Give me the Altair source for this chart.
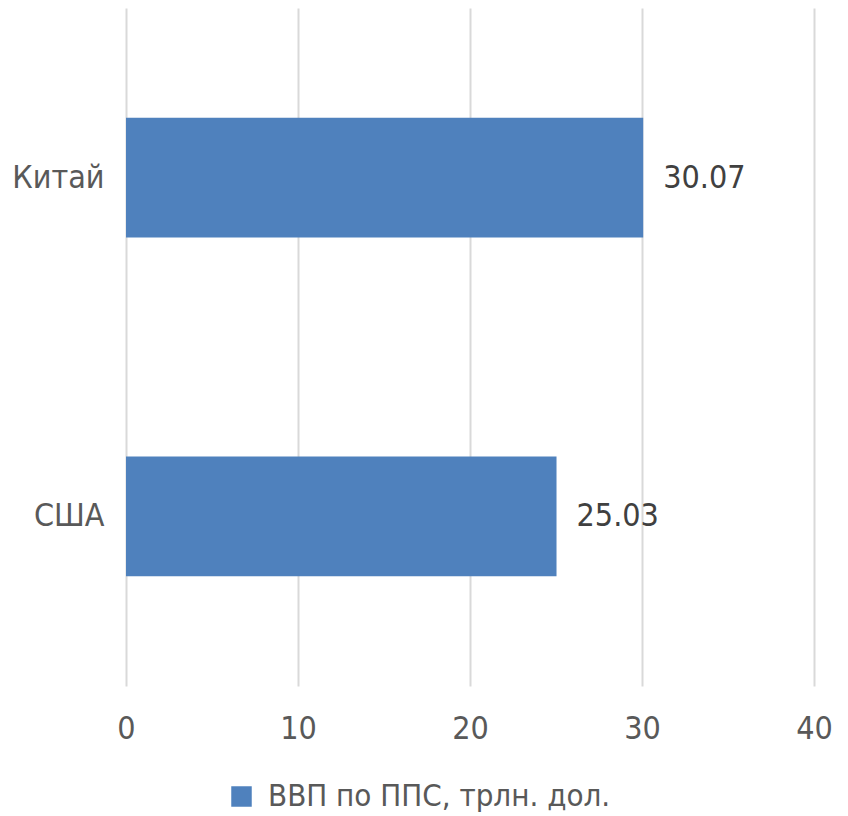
import altair as alt
import pandas as pd

countries = ["Китай", "США"]
values = [30.07, 25.03]
series_name = "ВВП по ППС, трлн. дол."

df = pd.DataFrame({"country": countries, "value": values, "series": [series_name] * len(countries)})

FONT = "DejaVu Sans Condensed"
FS = 32

y_enc = alt.Y("country:N", sort=countries, title=None,
              scale=alt.Scale(paddingInner=0.647, paddingOuter=0.324),
              axis=alt.Axis(domain=False, ticks=False, labelPadding=22, labelFontSize=FS,
                            labelColor="#595959", labelFont=FONT, minExtent=118, maxExtent=118,
                            grid=False))

bars = alt.Chart(df).mark_bar().encode(
    x=alt.X("value:Q", title=None,
            scale=alt.Scale(domain=[0, 40]),
            axis=alt.Axis(values=[0, 10, 20, 30, 40], domain=False, ticks=False, grid=True,
                          gridColor="#D9D9D9", gridWidth=2, labelPadding=27, labelFontSize=FS,
                          labelColor="#595959", labelFont=FONT, labelFlush=False)),
    y=y_enc,
    color=alt.Color("series:N", title=None,
                    scale=alt.Scale(range=["#4F81BD"]),
                    legend=alt.Legend(orient="none", legendX=100, legendY=773,
                                      symbolType="square", symbolSize=420, symbolStrokeWidth=0,
                                      labelFontSize=31, labelColor="#595959", labelFont=FONT,
                                      labelOffset=11, labelLimit=700, padding=0)),
)

labels = alt.Chart(df).mark_text(align="left", baseline="middle", dx=20, fontSize=FS,
                                 color="#404040", font=FONT).encode(
    x=alt.X("value:Q"),
    y=alt.Y("country:N", sort=countries),
    text=alt.Text("value:Q", format=".2f"),
)

chart = (bars + labels).properties(
    width=688, height=678, padding={"left": 0, "top": 0, "right": 2, "bottom": 0}
).configure_view(stroke=None)

chart.save("out.html", embed_options={"renderer": "svg", "actions": False})
